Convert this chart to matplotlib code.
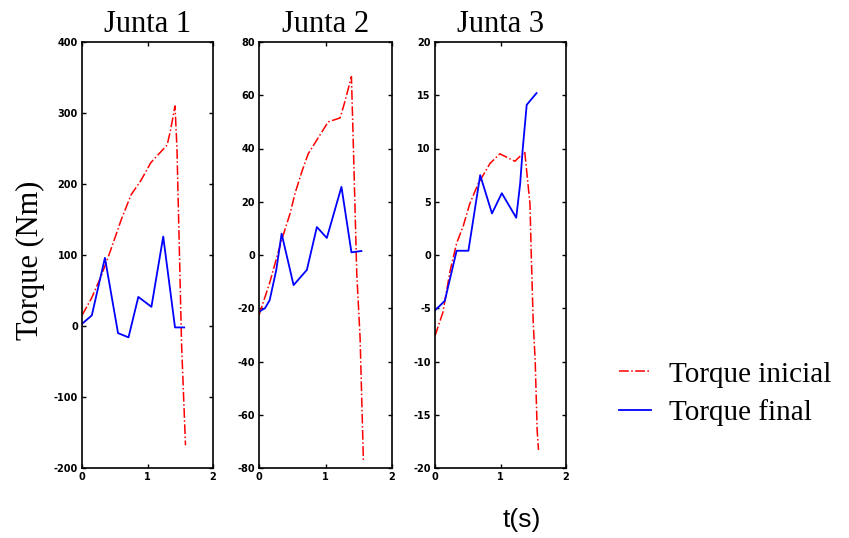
import matplotlib
matplotlib.use("Agg")
import matplotlib.pyplot as plt

plt.rcParams['axes.unicode_minus'] = False

# tiempo y torques
t1_ini = [0, 0.15, 0.3, 0.45, 0.6, 0.75, 0.9, 1.05, 1.2, 1.3, 1.35, 1.42, 1.45, 1.52, 1.58]
j1_ini = [15, 40, 72, 110, 150, 185, 205, 230, 245, 255, 275, 310, 250, -25, -168]
t1_fin = [0, 0.15, 0.35, 0.55, 0.71, 0.86, 1.06, 1.24, 1.42, 1.56]
j1_fin = [3, 15, 96, -10, -16, 41, 27, 126, -2, -2]

t2_ini = [0, 0.16, 0.34, 0.47, 0.54, 0.64, 0.74, 0.84, 0.94, 1.04, 1.22, 1.29, 1.39, 1.42, 1.47, 1.52, 1.57]
j2_ini = [-22.6, -10.5, 5.6, 15.8, 23, 31, 38, 42, 46, 50, 51.5, 57.5, 67, 40, -7, -31, -77]
t2_fin = [0, 0.09, 0.16, 0.26, 0.34, 0.52, 0.72, 0.87, 1.02, 1.24, 1.39, 1.54]
j2_fin = [-21.3, -20, -17, -5.6, 8, -11.3, -5.6, 10.5, 6.4, 25.6, 1, 1.5]

t3_ini = [0, 0.12, 0.23, 0.33, 0.43, 0.53, 0.66, 0.84, 0.99, 1.22, 1.37, 1.45, 1.47, 1.5, 1.53, 1.56, 1.58]
j3_ini = [-7.6, -5.4, -1.5, 1.1, 2.7, 4.8, 6.7, 8.6, 9.5, 8.8, 9.7, 4.8, 0, -6.4, -10, -16.5, -18.3]
t3_fin = [0, 0.15, 0.33, 0.51, 0.69, 0.87, 1.02, 1.24, 1.30, 1.34, 1.40, 1.55]
j3_fin = [-5.2, -4.3, 0.4, 0.4, 7.5, 3.9, 5.8, 3.5, 6.7, 10, 14.1, 15.2]

titulos = ["Junta 1", "Junta 2", "Junta 3"]
ylims = [(-200, 400), (-80, 80), (-20, 20)]
yticks = [[-200, -100, 0, 100, 200, 300, 400],
          [-80, -60, -40, -20, 0, 20, 40, 60, 80],
          [-20, -15, -10, -5, 0, 5, 10, 15, 20]]
xticks = [0, 1, 2]

datos = [(t1_ini, j1_ini, t1_fin, j1_fin),
         (t2_ini, j2_ini, t2_fin, j2_fin),
         (t3_ini, j3_ini, t3_fin, j3_fin)]

W, H = 849, 538
fig = plt.figure(figsize=(W / 100, H / 100), dpi=100)

lefts = [82, 259, 435]
anchos = [131, 133, 131]
serif = "Liberation Serif"

for i in range(3):
    ax = fig.add_axes([lefts[i] / W, (H - 468) / H, anchos[i] / W, 426 / H])
    ti, yi, tf, yf = datos[i]
    l1, = ax.plot(ti, yi, color="red", linestyle="-.", linewidth=1.1, label="Torque inicial")
    l2, = ax.plot(tf, yf, color="blue", linestyle="-", linewidth=1.3, label="Torque final")
    ax.set_xlim(0, 2)
    ax.set_ylim(*ylims[i])
    ax.set_xticks(xticks)
    ax.set_yticks(yticks[i])
    ax.tick_params(direction="in", top=True, right=True, length=3, width=1,
                   labelsize=7, pad=3)
    for lab in ax.get_xticklabels() + ax.get_yticklabels():
        lab.set_fontweight("bold")
    for s in ax.spines.values():
        s.set_linewidth(1.2)
    ax.set_title(titulos[i], fontsize=22, family=serif, pad=7)

fig.text(30 / W, 1 - 260 / H, "Torque (Nm)", rotation=90, fontsize=22,
         family=serif, ha="center", va="center")
fig.text(522 / W, 1 - 520 / H, "t(s)", fontsize=19, family="Liberation Sans",
         ha="center", va="center")

fig.legend(handles=[l1, l2], loc="upper left", bbox_to_anchor=(593 / W, 1 - 335 / H),
           frameon=False, prop={"family": serif, "size": 21},
           handlelength=1.1, handletextpad=0.6, labelspacing=0.4)

fig.savefig("out.png", dpi=100)
